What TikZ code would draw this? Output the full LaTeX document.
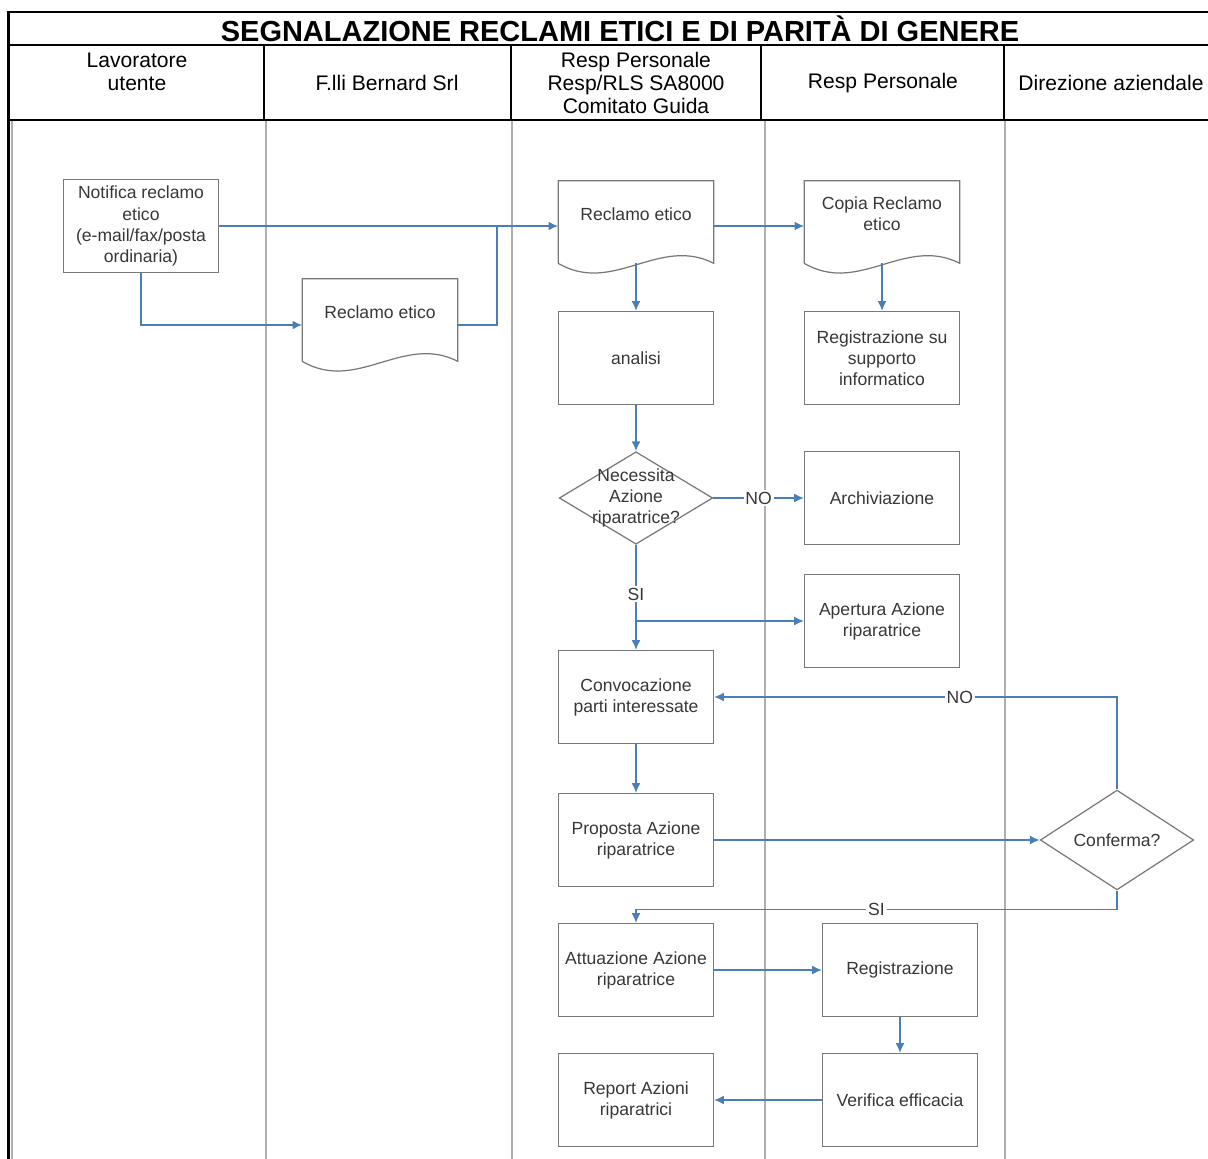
\documentclass[tikz,border=0pt]{standalone}
\usepackage{fontspec}
\setmainfont{Liberation Sans}
\usepackage{xcolor}
\usetikzlibrary{arrows.meta,positioning,shapes.geometric}
\definecolor{flowblue}{RGB}{74,126,187}
\definecolor{boxgray}{RGB}{120,120,120}
\definecolor{lanegray}{RGB}{175,175,178}
\definecolor{txtgray}{RGB}{55,55,55}

% outline of a document shape around a node, with a wavy bottom
\newcommand{\docoutline}[1]{%
\draw[boxline] ([yshift=-0.32cm]#1.south west) -- (#1.north west) -- (#1.north east)
  -- ([yshift=-0.32cm]#1.south east) .. controls +(-55,-28) and +(55,32) .. ([yshift=-0.32cm]#1.south west);
\coordinate (#1-bot) at ([yshift=-0.32cm]#1.south);}

\begin{document}
\begin{tikzpicture}[
x=0.02cm, y=-0.02cm,
font=\fontsize{10}{12}\selectfont,
boxline/.style={draw=boxgray,line width=0.7pt},
box/.style={boxline,rectangle,minimum width=3.1cm,minimum height=1.86cm,inner sep=1pt,align=center,text=txtgray},
docnode/.style={rectangle,minimum width=3.1cm,minimum height=1.32cm,inner sep=1pt,align=center,text=txtgray},
decision/.style={boxline,diamond,minimum width=3.07cm,minimum height=1.85cm,inner sep=0pt,align=center,text=txtgray},
flow/.style={->,draw=flowblue,line width=0.8pt,>={Latex[length=5.5pt,width=5pt]}},
plain/.style={draw=flowblue,line width=0.8pt},
lbl/.style={fill=white,inner sep=1pt,text=txtgray},
head/.style={align=center,font=\fontsize{12}{13.3}\selectfont}]
\useasboundingbox (0,0) rectangle (1208,1159);

% Swimlanes
\foreach \x in {12,266,512,765,1005}
  \draw[lanegray,line width=0.8pt] (\x,121) -- (\x,1159);
\draw[line width=1.2pt] (8.5,1159) -- (8.5,12) -- (1208,12);
\draw[line width=1.2pt] (8.5,45) -- (1208,45);
\draw[line width=1.2pt] (8.5,120) -- (1208,120);
\foreach \x in {264,511,761,1004}
  \draw[line width=1.2pt] (\x,45) -- (\x,120);

\node[font=\bfseries\fontsize{16.5}{19}\selectfont] (title) at (620,29) {SEGNALAZIONE RECLAMI ETICI E DI PARITÀ DI GENERE};
\node[head] (lavor) at (137,72) {Lavoratore\\utente};
\node[head] (bernard) at (387,83) {F.lli Bernard Srl};
\node[head] (comitato) at (636,83) {Resp Personale\\Resp/RLS SA8000\\Comitato Guida};
\node[head] (personale) at (883,83) {Resp Personale};
\node[head] (direzione) at (1111,83) {Direzione aziendale};

% Steps
\node[box] (notif) at (141,226) {Notifica reclamo\\etico\\(e-mail/fax/posta\\ordinaria)};
\node[docnode] (recF) at (380,312) {Reclamo etico};
\node[docnode] (recR) at (636,214) {Reclamo etico};
\node[docnode] (copia) at (882,214) {Copia Reclamo\\etico};
\docoutline{recF}
\docoutline{recR}
\docoutline{copia}
\node[box] (analisi) at (636,358) {analisi};
\node[box] (regsup) at (882,358) {Registrazione su\\supporto\\informatico};
\node[decision] (dec1) at (636,498) {};
\node[align=center,text=txtgray,inner sep=0pt] (dec1-txt) at (dec1) {Necessita\\Azione\\riparatrice?};
\node[box] (archiv) at (882,498) {Archiviazione};
\node[box] (apert) at (882,621) {Apertura Azione\\riparatrice};
\node[box] (convoc) at (636,697) {Convocazione\\parti interessate};
\node[box] (propos) at (636,840) {Proposta Azione\\riparatrice};
\node[decision] (conf) at (1117,840) {Conferma?};
\node[box] (attua) at (636,970) {Attuazione Azione\\riparatrice};
\node[box] (regis) at (900,970) {Registrazione};
\node[box] (report) at (636,1100) {Report Azioni\\riparatrici};
\node[box] (verif) at (900,1100) {Verifica efficacia};

% Connectors
\coordinate (join) at (497,226);
\draw[flow] (notif.east) -- (notif.east -| recR.west);
\draw[flow] (notif.south) |- ([yshift=-0.26cm]recF.west);
\draw[plain] ([yshift=-0.26cm]recF.east) -| (join);
\draw[flow] ([yshift=-0.24cm]recR.east) -- ([yshift=-0.24cm]copia.west);
\draw[flow] (recR-bot) -- (analisi.north);
\draw[flow] (copia-bot) -- (regsup.north);
\draw[flow] (analisi.south) -- (dec1.north);
\draw[flow] (dec1.east) -- (archiv.west) node[lbl,midway] {NO};
\draw[flow] (dec1.south) -- (convoc.north) node[lbl,pos=0.47] {SI};
\draw[flow] (dec1.south |- apert.west) -- (apert.west);
\draw[flow] (convoc.south) -- (propos.north);
\draw[flow] (propos.east) -- (conf.west);
\draw[flow] (conf.north) |- (convoc.east) node[lbl,pos=0.695] {NO};
\draw[flow] (conf.south) -- ++(0,19) -| (attua.north) node[lbl,pos=0.25] {SI};
\draw[flow] (attua.east) -- (regis.west);
\draw[flow] (regis.south) -- (verif.north);
\draw[flow] (verif.west) -- (report.east);
\end{tikzpicture}
\end{document}
